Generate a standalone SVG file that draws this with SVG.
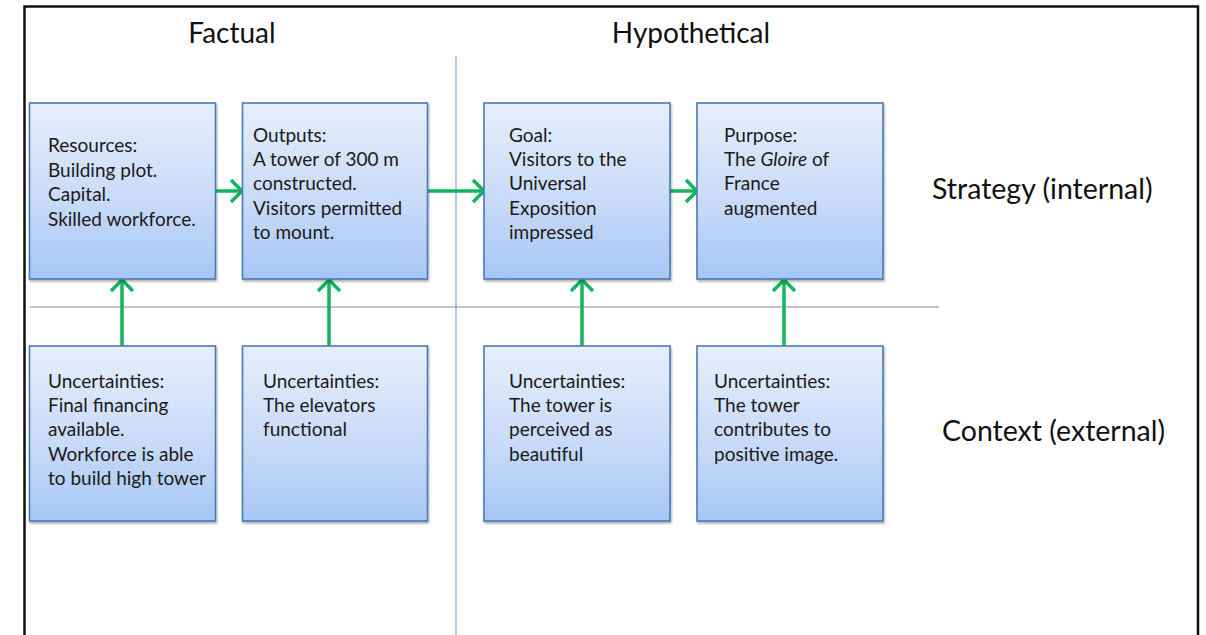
<svg xmlns="http://www.w3.org/2000/svg" width="1206" height="635" viewBox="0 0 1206 635">
  <style>
    .frame { fill: none; stroke: #111; stroke-width: 2.5; }
    .divider { stroke: #8eaed6; stroke-width: 1.3; fill: none; }
    .rule { stroke: #7d91aa; stroke-width: 1.2; fill: none; }
    .box { fill: url(#boxFill); stroke: #4a7ab5; stroke-width: 1.6; filter: url(#shadow); }
    .txt { font-family: Lato, "Open Sans", sans-serif; font-size: 19px; fill: #1a1a1a; }
    .head { font-family: Lato, "Open Sans", sans-serif; font-size: 28px; fill: #111; }
    .side { font-family: Lato, "Open Sans", sans-serif; font-size: 28.5px; fill: #111; }
    .link { stroke: #12b55a; stroke-width: 3.5; fill: none; marker-end: url(#chev); }
  </style>
  <defs>
    <linearGradient id="boxFill" x1="0" y1="0" x2="0" y2="1">
      <stop offset="0" stop-color="#e6eefc"/>
      <stop offset="0.55" stop-color="#c9dbf8"/>
      <stop offset="1" stop-color="#a6c6f6"/>
    </linearGradient>
    <filter id="shadow" x="-5%" y="-5%" width="115%" height="115%">
      <feDropShadow dx="1" dy="2" stdDeviation="1.2" flood-color="#000" flood-opacity="0.3"/>
    </filter>
    <marker id="chev" markerUnits="userSpaceOnUse" markerWidth="18" markerHeight="26" refX="14" refY="13" orient="auto">
      <path d="M3 2 L14 13 L3 24" fill="none" stroke="#12b55a" stroke-width="3.5" stroke-linecap="butt"/>
    </marker>
  </defs>

  <!-- frame and dividers -->
  <path class="frame" d="M24.5 640 V6.5 H1198 V640"/>
  <line class="divider" x1="456" y1="56" x2="456" y2="635"/>
  <line class="rule" x1="30" y1="307" x2="939" y2="307"/>

  <!-- column and row headings -->
  <text class="head" x="232" y="43" text-anchor="middle">Factual</text>
  <text class="head" x="691" y="43" text-anchor="middle">Hypothetical</text>
  <text class="side" x="932" y="199">Strategy (internal)</text>
  <text class="side" x="942" y="441">Context (external)</text>

  <!-- connectors -->
  <g id="connectors">
    <line class="link" x1="215" y1="191" x2="242" y2="191"/>
    <line class="link" x1="427" y1="191" x2="484" y2="191"/>
    <line class="link" x1="670" y1="191" x2="697" y2="191"/>
    <line class="link" x1="122" y1="346" x2="122" y2="280"/>
    <line class="link" x1="329" y1="346" x2="329" y2="280"/>
    <line class="link" x1="582" y1="346" x2="582" y2="280"/>
    <line class="link" x1="784" y1="346" x2="784" y2="280"/>
  </g>

  <!-- strategy row -->
  <g id="resources">
    <rect class="box" x="29.5" y="103" width="186" height="176"/>
    <text class="txt" x="48" y="152">Resources:</text>
    <text class="txt" x="48" y="177">Building plot.</text>
    <text class="txt" x="48" y="201">Capital.</text>
    <text class="txt" x="48" y="226">Skilled workforce.</text>
  </g>
  <g id="outputs">
    <rect class="box" x="242.5" y="103" width="185" height="176"/>
    <text class="txt" x="253" y="142">Outputs:</text>
    <text class="txt" x="253" y="166">A tower of 300 m</text>
    <text class="txt" x="253" y="190">constructed.</text>
    <text class="txt" x="253" y="215">Visitors permitted</text>
    <text class="txt" x="253" y="239">to mount.</text>
  </g>
  <g id="goal">
    <rect class="box" x="484" y="103" width="186" height="176"/>
    <text class="txt" x="509" y="142">Goal:</text>
    <text class="txt" x="509" y="166">Visitors to the</text>
    <text class="txt" x="509" y="190">Universal</text>
    <text class="txt" x="509" y="215">Exposition</text>
    <text class="txt" x="509" y="239">impressed</text>
  </g>
  <g id="purpose">
    <rect class="box" x="697" y="103" width="186" height="176"/>
    <text class="txt" x="724" y="142">Purpose:</text>
    <text class="txt" x="724" y="166">The <tspan font-style="italic">Gloire</tspan> of</text>
    <text class="txt" x="724" y="190">France</text>
    <text class="txt" x="724" y="215">augmented</text>
  </g>

  <!-- context row -->
  <g id="uncertainty-resources">
    <rect class="box" x="29.5" y="346" width="186" height="175"/>
    <text class="txt" x="48" y="388">Uncertainties:</text>
    <text class="txt" x="48" y="412">Final financing</text>
    <text class="txt" x="48" y="436">available.</text>
    <text class="txt" x="48" y="461">Workforce is able</text>
    <text class="txt" x="48" y="485">to build high tower</text>
  </g>
  <g id="uncertainty-outputs">
    <rect class="box" x="242.5" y="346" width="185" height="175"/>
    <text class="txt" x="263" y="388">Uncertainties:</text>
    <text class="txt" x="263" y="412">The elevators</text>
    <text class="txt" x="263" y="436">functional</text>
  </g>
  <g id="uncertainty-goal">
    <rect class="box" x="484" y="346" width="186" height="175"/>
    <text class="txt" x="509" y="388">Uncertainties:</text>
    <text class="txt" x="509" y="412">The tower is</text>
    <text class="txt" x="509" y="436">perceived as</text>
    <text class="txt" x="509" y="461">beautiful</text>
  </g>
  <g id="uncertainty-purpose">
    <rect class="box" x="697" y="346" width="186" height="175"/>
    <text class="txt" x="714" y="388">Uncertainties:</text>
    <text class="txt" x="714" y="412">The tower</text>
    <text class="txt" x="714" y="436">contributes to</text>
    <text class="txt" x="714" y="461">positive image.</text>
  </g>
</svg>
